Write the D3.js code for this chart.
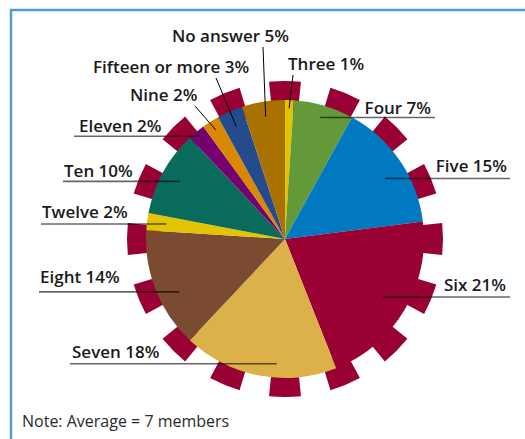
<!DOCTYPE html>
<meta charset="utf-8">
<style>
    body { margin: 0; background: #fff; }
    .label { font-family: "Open Sans", sans-serif; font-weight: 600; font-size: 17px; fill: #1a1a1a; }
    .note { font-family: "Open Sans", sans-serif; font-size: 16px; fill: #2a2a2a; }
    .under { stroke: #000; stroke-opacity: 0.6; stroke-width: 1.6px; }
    .leader { stroke: #000; stroke-width: 1px; }
</style>
<svg width="525" height="439"></svg>
<script src="https://d3js.org/d3.v7.min.js"></script>
<script>
    // household size shares, clockwise from 12 o'clock
    var categories = ["Three", "Four", "Five", "Six", "Seven", "Eight",
        "Twelve", "Ten", "Eleven", "Nine", "Fifteen or more", "No answer"];
    var values = [1, 7, 15, 21, 18, 14, 2, 10, 2, 2, 3, 5];
    var colors = ["#e2c400", "#64993a", "#0079c1", "#990033", "#ddb149", "#7a4a31",
        "#e2c400", "#086b5b", "#76006f", "#d98800", "#234b8e", "#a87100"];

    // label placement: hand-set like the original annotation layout
    // under: text with underline running to the slice; leader: text above with a slanted line
    var labelLayout = [
        {kind: "leader", x: 288, y: 70, lx: 293, k: 0.94, nudge: 0},
        {kind: "under", side: "right", x: 431, edge: 435, gap: 4, k: 0.91, nudge: 0},
        {kind: "under", side: "right", x: 507, edge: 510, gap: 7, k: 0.84, nudge: 3},
        {kind: "under", side: "right", x: 506, edge: 510, gap: 6, k: 0.82, nudge: 0},
        {kind: "under", side: "left", x: 72, edge: 70, gap: 6, k: 0.9, nudge: -7},
        {kind: "under", side: "left", x: 40, edge: 39, gap: 9, k: 0.85, nudge: -5},
        {kind: "under", side: "left", x: 42, edge: 41, gap: 6, k: 0.86, nudge: 0},
        {kind: "under", side: "left", x: 64, edge: 63, gap: 4, k: 0.86, nudge: 0},
        {kind: "under", side: "left", x: 79, edge: 74, gap: 4, k: 0.96, nudge: 0},
        {kind: "leader", x: 130, y: 101, lx: 195, k: 0.93, nudge: 0},
        {kind: "leader", x: 93, y: 73, lx: 216, k: 0.88, nudge: 0},
        {kind: "leader", x: 172, y: 42, lx: 263, k: 0.89, nudge: 0}
    ];

    var teeth = d3.range(16);

    var svg = d3.select("svg"),
        width = +svg.attr("width"),
        height = +svg.attr("height");

    var cx = 285, cy = 239, radius = 139;

    // frame (runs off the right and bottom edges)
    svg.append("rect")
        .attr("x", 11).attr("y", 10)
        .attr("width", width).attr("height", height)
        .attr("fill", "none")
        .attr("stroke", "#4a9fd8")
        .attr("stroke-width", 2.5);

    var g = svg.append("g").attr("transform", "translate(" + cx + "," + cy + ")");

    // cog teeth behind the pie
    var toothAngle = d3.scaleLinear().domain([0, 16]).range([0, 2 * Math.PI]);
    var halfTooth = 5.8 * Math.PI / 180;
    var toothArc = d3.arc().innerRadius(radius - 12).outerRadius(radius + 19);
    g.append("g").selectAll("path")
        .data(teeth)
        .enter().append("path")
        .attr("fill", "#990033")
        .attr("d", function (i) {
            var a = toothAngle(i);
            return toothArc({startAngle: a - halfTooth, endAngle: a + halfTooth});
        });

    var pie = d3.pie().sort(null).value(function (d) { return d; });
    var arcs = pie(values);
    var arc = d3.arc().innerRadius(0).outerRadius(radius);

    g.append("g").selectAll("path")
        .data(arcs)
        .enter().append("path")
        .attr("fill", function (d, i) { return colors[i]; })
        .attr("d", arc);

    function anchorPoint(d, i) {
        var L = labelLayout[i];
        var a = (d.startAngle + d.endAngle) / 2 + L.nudge * Math.PI / 180;
        var r = radius * L.k;
        return [cx + r * Math.sin(a), cy - r * Math.cos(a)];
    }

    var lab = svg.append("g");
    arcs.forEach(function (d, i) {
        var L = labelLayout[i];
        var p = anchorPoint(d, i);
        var text = categories[i] + " " + values[i] + "%";
        if (L.kind === "under") {
            lab.append("line").attr("class", "under")
                .attr("x1", L.edge).attr("x2", p[0])
                .attr("y1", p[1]).attr("y2", p[1]);
            lab.append("text").attr("class", "label")
                .attr("x", L.x).attr("y", p[1] - L.gap)
                .attr("text-anchor", L.side === "right" ? "end" : "start")
                .text(text);
        } else {
            lab.append("line").attr("class", "leader")
                .attr("x1", L.lx).attr("y1", L.y + 5)
                .attr("x2", p[0]).attr("y2", p[1]);
            lab.append("text").attr("class", "label")
                .attr("x", L.x).attr("y", L.y)
                .text(text);
        }
    });

    svg.append("text").attr("class", "note")
        .attr("x", 22).attr("y", 427)
        .text("Note: Average = 7 members");
</script>
